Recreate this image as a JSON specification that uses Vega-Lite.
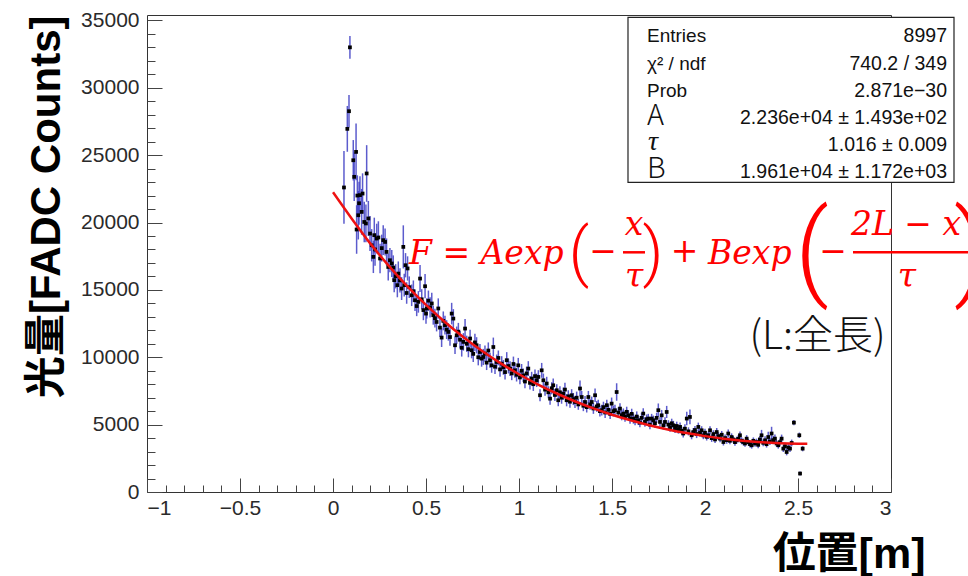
{
"$schema": "https://vega.github.io/schema/vega-lite/v6.json",
"width": 744, "height": 477,
"autosize": "none",
"padding": {"left": 147, "top": 15, "right": 77, "bottom": 84},
"background": "white",
"config": {"view": {"stroke": "#333", "strokeWidth": 1}, "font": "Liberation Sans"},
"datasets": {
"pts": [
{"x":0.059,"y":22600,"e":2700},{"x":0.077,"y":26950,"e":1700},{"x":0.086,"y":28260,"e":1200},{"x":0.091,"y":33000,"e":850},
{"x":0.109,"y":24620,"e":1500},{"x":0.114,"y":23390,"e":1800},{"x":0.124,"y":25240,"e":2100},{"x":0.131,"y":22000,"e":1500},
{"x":0.136,"y":20540,"e":1800},{"x":0.140,"y":21430,"e":1600},{"x":0.145,"y":22030,"e":1400},{"x":0.154,"y":20790,"e":1700},
{"x":0.159,"y":22150,"e":1500},{"x":0.168,"y":20040,"e":1500},{"x":0.177,"y":19930,"e":1400},{"x":0.181,"y":23640,"e":2100},
{"x":0.127,"y":19480,"e":1800},{"x":0.190,"y":20300,"e":1300},{"x":0.199,"y":19180,"e":1300},{"x":0.208,"y":18310,"e":1200},
{"x":0.217,"y":17450,"e":1200},{"x":0.222,"y":19060,"e":1300},{"x":0.226,"y":18000,"e":1200},{"x":0.235,"y":18810,"e":1100},
{"x":0.244,"y":18890,"e":1200},{"x":0.253,"y":17330,"e":1100},{"x":0.262,"y":18100,"e":1000},{"x":0.270,"y":18690,"e":1100},
{"x":0.280,"y":18560,"e":1000},{"x":0.288,"y":17820,"e":1000},{"x":0.297,"y":16700,"e":1000},{"x":0.306,"y":17200,"e":900},
{"x":0.316,"y":16960,"e":1000},{"x":0.324,"y":16660,"e":900},{"x":0.329,"y":15720,"e":900},{"x":0.337,"y":16010,"e":900},
{"x":0.346,"y":15350,"e":900},{"x":0.351,"y":16210,"e":900},{"x":0.360,"y":15700,"e":900},{"x":0.369,"y":15100,"e":850},
{"x":0.378,"y":18190,"e":1600},{"x":0.383,"y":15350,"e":850},{"x":0.390,"y":16830,"e":900},{"x":0.396,"y":14770,"e":800},
{"x":0.401,"y":16590,"e":900},{"x":0.410,"y":15200,"e":800},{"x":0.423,"y":14600,"e":800},{"x":0.432,"y":14900,"e":800},
{"x":0.441,"y":14230,"e":800},{"x":0.450,"y":13800,"e":750},{"x":0.459,"y":14110,"e":800},{"x":0.468,"y":15840,"e":1000},
{"x":0.477,"y":14300,"e":750},{"x":0.486,"y":13500,"e":750},{"x":0.495,"y":15270,"e":900},{"x":0.500,"y":13240,"e":750},
{"x":0.504,"y":13620,"e":750},{"x":0.513,"y":14200,"e":750},{"x":0.522,"y":13700,"e":750},{"x":0.531,"y":13990,"e":800},
{"x":0.539,"y":13120,"e":700},{"x":0.548,"y":12900,"e":700},{"x":0.557,"y":12620,"e":700},{"x":0.566,"y":13620,"e":750},
{"x":0.575,"y":12200,"e":700},{"x":0.584,"y":11460,"e":700},{"x":0.593,"y":12700,"e":700},{"x":0.602,"y":12380,"e":700},
{"x":0.611,"y":12050,"e":700},{"x":0.620,"y":11880,"e":650},{"x":0.629,"y":11500,"e":650},{"x":0.638,"y":13240,"e":800},
{"x":0.647,"y":12870,"e":700},{"x":0.656,"y":10890,"e":650},{"x":0.665,"y":11630,"e":650},{"x":0.674,"y":11900,"e":650},
{"x":0.683,"y":11300,"e":650},{"x":0.692,"y":10700,"e":650},{"x":0.701,"y":11140,"e":650},{"x":0.710,"y":12130,"e":700},
{"x":0.719,"y":11000,"e":600},{"x":0.728,"y":10600,"e":600},{"x":0.737,"y":11390,"e":650},{"x":0.745,"y":10520,"e":600},
{"x":0.754,"y":10250,"e":600},{"x":0.763,"y":11100,"e":650},{"x":0.772,"y":10890,"e":600},{"x":0.781,"y":10000,"e":600},
{"x":0.790,"y":10390,"e":600},{"x":0.799,"y":9900,"e":600},{"x":0.808,"y":10020,"e":600},{"x":0.817,"y":10270,"e":600},
{"x":0.826,"y":9600,"e":550},{"x":0.835,"y":10500,"e":600},{"x":0.844,"y":9780,"e":550},{"x":0.853,"y":9400,"e":550},
{"x":0.862,"y":10760,"e":700},{"x":0.871,"y":9300,"e":550},{"x":0.880,"y":9650,"e":550},{"x":0.889,"y":9950,"e":550},
{"x":0.898,"y":9100,"e":550},{"x":0.907,"y":9530,"e":550},{"x":0.916,"y":9250,"e":550},{"x":0.925,"y":8900,"e":550},
{"x":0.934,"y":9780,"e":600},{"x":0.943,"y":9350,"e":550},{"x":0.952,"y":9160,"e":550},{"x":0.961,"y":8800,"e":500},
{"x":0.970,"y":9500,"e":550},{"x":0.978,"y":9030,"e":550},{"x":0.987,"y":8700,"e":500},{"x":0.996,"y":9400,"e":550},
{"x":1.005,"y":8500,"e":500},{"x":1.014,"y":9000,"e":500},{"x":1.023,"y":8660,"e":500},{"x":1.032,"y":8200,"e":500},
{"x":1.041,"y":8800,"e":500},{"x":1.050,"y":9160,"e":550},{"x":1.059,"y":8100,"e":500},{"x":1.068,"y":8420,"e":500},
{"x":1.077,"y":8000,"e":500},{"x":1.086,"y":8600,"e":500},{"x":1.095,"y":8290,"e":500},{"x":1.104,"y":8540,"e":500},
{"x":1.113,"y":7180,"e":450},{"x":1.122,"y":9030,"e":550},{"x":1.131,"y":8290,"e":500},{"x":1.140,"y":7600,"e":450},
{"x":1.149,"y":8050,"e":500},{"x":1.158,"y":7400,"e":450},{"x":1.167,"y":6930,"e":450},{"x":1.176,"y":7700,"e":450},
{"x":1.184,"y":7920,"e":500},{"x":1.193,"y":7200,"e":450},{"x":1.203,"y":7550,"e":450},{"x":1.211,"y":6810,"e":450},
{"x":1.220,"y":7400,"e":450},{"x":1.229,"y":7000,"e":450},{"x":1.238,"y":7300,"e":450},{"x":1.247,"y":7600,"e":500},
{"x":1.256,"y":6810,"e":450},{"x":1.265,"y":7100,"e":450},{"x":1.274,"y":6700,"e":450},{"x":1.283,"y":7180,"e":450},
{"x":1.292,"y":6900,"e":450},{"x":1.301,"y":6680,"e":450},{"x":1.310,"y":7000,"e":450},{"x":1.319,"y":6500,"e":400},
{"x":1.328,"y":7680,"e":600},{"x":1.337,"y":7050,"e":450},{"x":1.346,"y":6400,"e":400},{"x":1.355,"y":6680,"e":450},
{"x":1.364,"y":6300,"e":400},{"x":1.373,"y":7050,"e":450},{"x":1.382,"y":6500,"e":400},{"x":1.391,"y":6680,"e":400},
{"x":1.400,"y":6200,"e":400},{"x":1.409,"y":7180,"e":500},{"x":1.418,"y":6350,"e":400},{"x":1.426,"y":6440,"e":400},
{"x":1.435,"y":6000,"e":400},{"x":1.445,"y":6070,"e":400},{"x":1.454,"y":6300,"e":400},{"x":1.463,"y":5900,"e":400},
{"x":1.472,"y":6440,"e":400},{"x":1.481,"y":6100,"e":400},{"x":1.490,"y":5800,"e":380},{"x":1.498,"y":6560,"e":450},
{"x":1.507,"y":6000,"e":400},{"x":1.516,"y":6070,"e":400},{"x":1.525,"y":7420,"e":650},{"x":1.534,"y":5900,"e":380},
{"x":1.543,"y":6190,"e":400},{"x":1.552,"y":5700,"e":380},{"x":1.561,"y":5820,"e":380},{"x":1.570,"y":5600,"e":380},
{"x":1.579,"y":5950,"e":380},{"x":1.588,"y":5690,"e":380},{"x":1.597,"y":5450,"e":380},{"x":1.606,"y":5800,"e":380},
{"x":1.615,"y":5450,"e":380},{"x":1.624,"y":5300,"e":350},{"x":1.633,"y":5600,"e":380},{"x":1.641,"y":5320,"e":350},
{"x":1.650,"y":5150,"e":350},{"x":1.659,"y":5500,"e":380},{"x":1.668,"y":5820,"e":400},{"x":1.677,"y":5200,"e":350},
{"x":1.686,"y":5400,"e":350},{"x":1.695,"y":5450,"e":350},{"x":1.704,"y":5000,"e":350},{"x":1.713,"y":5450,"e":350},
{"x":1.722,"y":5320,"e":350},{"x":1.731,"y":5100,"e":350},{"x":1.740,"y":5500,"e":380},{"x":1.749,"y":6070,"e":500},
{"x":1.758,"y":5200,"e":350},{"x":1.767,"y":5690,"e":400},{"x":1.776,"y":4950,"e":330},{"x":1.785,"y":5200,"e":350},
{"x":1.794,"y":5940,"e":450},{"x":1.803,"y":5000,"e":330},{"x":1.812,"y":4800,"e":320},{"x":1.821,"y":5100,"e":340},
{"x":1.830,"y":4950,"e":330},{"x":1.839,"y":4700,"e":320},{"x":1.848,"y":4900,"e":320},{"x":1.857,"y":4650,"e":320},
{"x":1.866,"y":4830,"e":320},{"x":1.875,"y":4550,"e":300},{"x":1.883,"y":4340,"e":300},{"x":1.892,"y":4700,"e":320},
{"x":1.902,"y":5450,"e":500},{"x":1.911,"y":4500,"e":300},{"x":1.919,"y":5570,"e":550},{"x":1.928,"y":4210,"e":300},
{"x":1.937,"y":4450,"e":300},{"x":1.946,"y":4600,"e":300},{"x":1.955,"y":4300,"e":300},{"x":1.964,"y":4830,"e":320},
{"x":1.973,"y":4400,"e":300},{"x":1.982,"y":4580,"e":300},{"x":1.991,"y":4200,"e":280},{"x":2.000,"y":4400,"e":300},
{"x":2.009,"y":4100,"e":280},{"x":2.018,"y":4210,"e":280},{"x":2.027,"y":4580,"e":300},{"x":2.036,"y":4000,"e":280},
{"x":2.045,"y":4300,"e":280},{"x":2.054,"y":3900,"e":270},{"x":2.063,"y":4450,"e":300},{"x":2.072,"y":4150,"e":280},
{"x":2.081,"y":3960,"e":270},{"x":2.090,"y":4250,"e":280},{"x":2.099,"y":3710,"e":260},{"x":2.108,"y":4000,"e":270},
{"x":2.117,"y":3850,"e":260},{"x":2.125,"y":4340,"e":290},{"x":2.134,"y":3800,"e":260},{"x":2.143,"y":4080,"e":270},
{"x":2.152,"y":3900,"e":260},{"x":2.161,"y":3700,"e":260},{"x":2.170,"y":3840,"e":260},{"x":2.179,"y":3950,"e":260},
{"x":2.188,"y":4210,"e":280},{"x":2.197,"y":3800,"e":260},{"x":2.206,"y":3710,"e":250},{"x":2.215,"y":3600,"e":250},
{"x":2.224,"y":3960,"e":260},{"x":2.233,"y":3700,"e":250},{"x":2.242,"y":3550,"e":250},{"x":2.251,"y":3470,"e":250},
{"x":2.260,"y":3800,"e":250},{"x":2.269,"y":3600,"e":250},{"x":2.277,"y":3710,"e":250},{"x":2.286,"y":3500,"e":250},
{"x":2.295,"y":3900,"e":260},{"x":2.304,"y":4210,"e":400},{"x":2.313,"y":3650,"e":250},{"x":2.323,"y":3840,"e":300},
{"x":2.331,"y":3550,"e":250},{"x":2.340,"y":4080,"e":400},{"x":2.349,"y":3750,"e":260},{"x":2.358,"y":4340,"e":500},
{"x":2.367,"y":3850,"e":300},{"x":2.376,"y":3960,"e":300},{"x":2.385,"y":3600,"e":260},{"x":2.394,"y":3470,"e":250},
{"x":2.403,"y":3700,"e":260},{"x":2.412,"y":3960,"e":300},{"x":2.421,"y":3220,"e":250},{"x":2.430,"y":3400,"e":250},
{"x":2.439,"y":2970,"e":250},{"x":2.448,"y":3300,"e":250},{"x":2.457,"y":3220,"e":250},{"x":2.466,"y":3640,"e":250},
{"x":2.478,"y":5150,"e":200},{"x":2.507,"y":4210,"e":200},{"x":2.525,"y":3220,"e":200},{"x":2.511,"y":1370,"e":150}
],
"fit": [
{"x":0,"f":22250},{"x":0.1,"f":20300},{"x":0.2,"f":18450},{"x":0.3,"f":16780},{"x":0.4,"f":15260},{"x":0.5,"f":13890},
{"x":0.6,"f":12640},{"x":0.7,"f":11510},{"x":0.8,"f":10488},{"x":0.9,"f":9568},{"x":1.0,"f":8739},{"x":1.1,"f":7995},
{"x":1.2,"f":7329},{"x":1.3,"f":6734},{"x":1.4,"f":6204},{"x":1.5,"f":5734},{"x":1.6,"f":5320},{"x":1.7,"f":4957},
{"x":1.8,"f":4644},{"x":1.9,"f":4374},{"x":2.0,"f":4146},{"x":2.1,"f":3960},{"x":2.2,"f":3811},{"x":2.3,"f":3700},
{"x":2.4,"f":3624},{"x":2.5,"f":3585},{"x":2.55,"f":3578}
]
},
"resolve": {"axis": {"x": "independent", "y": "independent"}},
"layer": [
{
 "data": {"name": "fit"},
 "mark": {"type": "point", "opacity": 0},
 "encoding": {
  "x": {"field": "x", "type": "quantitative", "scale": {"domain": [-1, 3], "nice": false, "zero": false},
   "axis": {"orient": "bottom", "values": [-0.9,-0.8,-0.7,-0.6,-0.4,-0.3,-0.2,-0.1,0.1,0.2,0.3,0.4,0.6,0.7,0.8,0.9,1.1,1.2,1.3,1.4,1.6,1.7,1.8,1.9,2.1,2.2,2.3,2.4,2.6,2.7,2.8,2.9],
    "labels": false, "domain": false, "grid": false, "tickSize": -7, "tickColor": "#444", "tickWidth": 1, "title": null}},
  "y": {"field": "f", "type": "quantitative", "scale": {"domain": [0, 35400], "nice": false, "zero": false},
   "axis": {"orient": "left", "values": [1000,2000,3000,4000,6000,7000,8000,9000,11000,12000,13000,14000,16000,17000,18000,19000,21000,22000,23000,24000,26000,27000,28000,29000,31000,32000,33000,34000],
    "labels": false, "domain": false, "grid": false, "tickSize": -8, "tickColor": "#444", "tickWidth": 1, "title": null}}
 }
},
{
 "data": {"name": "pts"},
 "mark": {"type": "errorbar", "color": "#4040c4", "thickness": 1.5, "opacity": 0.85},
 "encoding": {
  "x": {"field": "x", "type": "quantitative", "axis": null},
  "y": {"field": "y", "type": "quantitative", "axis": null},
  "yError": {"field": "e"}
 }
},
{
 "data": {"name": "pts"},
 "mark": {"type": "square", "filled": true, "color": "#000000", "size": 14, "opacity": 1},
 "encoding": {
  "x": {"field": "x", "type": "quantitative", "scale": {"domain": [-1, 3], "nice": false, "zero": false},
   "axis": {"orient": "bottom", "values": [-1,-0.5,0,0.5,1,1.5,2,2.5,3], "format": "~g", "domain": false, "grid": false,
    "tickSize": -14, "tickColor": "#444", "tickWidth": 1, "labelPadding": 19, "labelFont": "Liberation Sans", "labelFontSize": 21, "labelColor": "#2a2a2a",
    "title": "位置[m]", "titleFont": "Liberation Sans, Noto Sans CJK JP", "titleFontSize": 43, "titleFontWeight": "bold", "titleColor": "#000",
    "titleAnchor": "end", "titleAlign": "right", "titleX": 778, "titleY": 62, "titleBaseline": "middle"}},
  "y": {"field": "y", "type": "quantitative", "scale": {"domain": [0, 35400], "nice": false, "zero": false},
   "axis": {"orient": "left", "values": [0,5000,10000,15000,20000,25000,30000,35000], "format": "d", "domain": false, "grid": false,
    "tickSize": -15, "tickColor": "#444", "tickWidth": 1, "labelPadding": 23, "labelFont": "Liberation Sans", "labelFontSize": 21, "labelColor": "#2a2a2a",
    "title": "光量[FADC Counts]", "titleFont": "Liberation Sans, Noto Sans CJK JP", "titleFontSize": 42, "titleFontWeight": "bold", "titleColor": "#000",
    "titleAnchor": "end", "titleAngle": -90, "titleX": -101, "titleBaseline": "middle"}}
 }
},
{
 "data": {"name": "fit"},
 "mark": {"type": "line", "color": "#ee1111", "strokeWidth": 2.5, "interpolate": "monotone"},
 "encoding": {
  "x": {"field": "x", "type": "quantitative", "axis": null},
  "y": {"field": "f", "type": "quantitative", "axis": null}
 }
},
{
 "data": {"values": [{}]},
 "mark": {"type": "rect", "fill": "#ffffff", "stroke": "#222222", "strokeWidth": 1.2},
 "encoding": {"x": {"datum": 1.586, "axis": null}, "x2": {"datum": 3.3387}, "y": {"datum": 35225, "axis": null}, "y2": {"datum": 22983}}
},
{
 "data": {"values": [{}]},
 "mark": {"type": "text", "text": ["Entries", "χ² / ndf", "Prob"], "align": "left", "baseline": "alphabetic", "lineHeight": 27.5, "font": "Liberation Sans", "fontSize": 19, "color": "#111"},
 "encoding": {"x": {"datum": 1.6882, "axis": null}, "y": {"datum": 33372, "axis": null}}
},
{
 "data": {"values": [{}]},
 "mark": {"type": "text", "text": ["8997", "740.2 / 349", "2.871e−30", "2.236e+04 ± 1.493e+02", "1.016 ± 0.009", "1.961e+04 ± 1.172e+03"], "align": "right", "baseline": "alphabetic", "lineHeight": 27.2, "font": "Liberation Sans", "fontSize": 19.5, "color": "#111"},
 "encoding": {"x": {"datum": 3.3011, "axis": null}, "y": {"datum": 33372, "axis": null}}
},
{
 "data": {"values": [{}]},
 "mark": {"type": "text", "text": "A", "align": "left", "baseline": "alphabetic", "font": "Noto Sans CJK JP", "fontWeight": 300, "fontSize": 29, "color": "#111"},
 "encoding": {"x": {"datum": 1.6882, "axis": null}, "y": {"datum": 27213, "axis": null}}
},
{
 "data": {"values": [{}]},
 "mark": {"type": "text", "text": "τ", "align": "left", "baseline": "alphabetic", "font": "Liberation Serif", "fontStyle": "italic", "fontSize": 28, "color": "#111"},
 "encoding": {"x": {"datum": 1.6935, "axis": null}, "y": {"datum": 25357, "axis": null}}
},
{
 "data": {"values": [{}]},
 "mark": {"type": "text", "text": "B", "align": "left", "baseline": "alphabetic", "font": "Noto Sans CJK JP", "fontWeight": 300, "fontSize": 29, "color": "#111"},
 "encoding": {"x": {"datum": 1.6882, "axis": null}, "y": {"datum": 23280, "axis": null}}
},
{
 "data": {"values": [{}]},
 "mark": {"type": "text", "text": "F = Aexp", "align": "left", "baseline": "alphabetic", "font": "DejaVu Serif", "fontStyle": "italic", "fontSize": 33, "color": "#ff0000"},
 "encoding": {"x": {"datum": 0.4086, "axis": null}, "y": {"datum": 16898, "axis": null}}
},
{
 "data": {"values": [{}]},
 "mark": {"type": "text", "text": "(", "align": "center", "baseline": "middle", "font": "Roboto", "fontWeight": 300, "fontSize": 64, "color": "#ff0000"},
 "encoding": {"x": {"datum": 1.3226, "axis": null}, "y": {"datum": 17600, "axis": null}}
},
{
 "data": {"values": [{}]},
 "mark": {"type": "text", "text": "−", "align": "center", "baseline": "middle", "font": "DejaVu Serif", "fontSize": 33, "color": "#ff0000"},
 "encoding": {"x": {"datum": 1.4516, "axis": null}, "y": {"datum": 17788, "axis": null}}
},
{
 "data": {"values": [{}]},
 "mark": {"type": "text", "text": "x", "align": "center", "baseline": "middle", "font": "DejaVu Serif", "fontStyle": "italic", "fontSize": 33, "color": "#ff0000"},
 "encoding": {"x": {"datum": 1.6183, "axis": null}, "y": {"datum": 19792, "axis": null}}
},
{
 "data": {"values": [{}]},
 "mark": {"type": "rule", "color": "#ff0000", "strokeWidth": 2.5},
 "encoding": {"x": {"datum": 1.5591, "axis": null}, "x2": {"datum": 1.6774}, "y": {"datum": 17788, "axis": null}}
},
{
 "data": {"values": [{}]},
 "mark": {"type": "text", "text": "τ", "align": "center", "baseline": "middle", "font": "DejaVu Serif", "fontStyle": "italic", "fontSize": 33, "color": "#ff0000"},
 "encoding": {"x": {"datum": 1.6183, "axis": null}, "y": {"datum": 15933, "axis": null}}
},
{
 "data": {"values": [{}]},
 "mark": {"type": "text", "text": ")", "align": "center", "baseline": "middle", "font": "Roboto", "fontWeight": 300, "fontSize": 64, "color": "#ff0000"},
 "encoding": {"x": {"datum": 1.7204, "axis": null}, "y": {"datum": 17600, "axis": null}}
},
{
 "data": {"values": [{}]},
 "mark": {"type": "text", "text": "+", "align": "center", "baseline": "middle", "font": "DejaVu Serif", "fontSize": 33, "color": "#ff0000"},
 "encoding": {"x": {"datum": 1.8898, "axis": null}, "y": {"datum": 17788, "axis": null}}
},
{
 "data": {"values": [{}]},
 "mark": {"type": "text", "text": "Bexp", "align": "left", "baseline": "alphabetic", "font": "DejaVu Serif", "fontStyle": "italic", "fontSize": 33, "color": "#ff0000"},
 "encoding": {"x": {"datum": 2.0161, "axis": null}, "y": {"datum": 16898, "axis": null}}
},
{
 "data": {"values": [{}]},
 "mark": {"type": "text", "text": "(", "align": "center", "baseline": "middle", "font": "Roboto", "fontWeight": 300, "fontSize": 106, "color": "#ff0000"},
 "encoding": {"x": {"datum": 2.5753, "axis": null}, "y": {"datum": 17700, "axis": null}}
},
{
 "data": {"values": [{}]},
 "mark": {"type": "text", "text": "−", "align": "center", "baseline": "middle", "font": "DejaVu Serif", "fontSize": 33, "color": "#ff0000"},
 "encoding": {"x": {"datum": 2.6882, "axis": null}, "y": {"datum": 17788, "axis": null}}
},
{
 "data": {"values": [{}]},
 "mark": {"type": "rule", "color": "#ff0000", "strokeWidth": 2.5},
 "encoding": {"x": {"datum": 2.7957, "axis": null}, "x2": {"datum": 3.5}, "y": {"datum": 17788, "axis": null}}
},
{
 "data": {"values": [{}]},
 "mark": {"type": "text", "text": "2L − x", "align": "center", "baseline": "middle", "font": "DejaVu Serif", "fontStyle": "italic", "fontSize": 33, "color": "#ff0000"},
 "encoding": {"x": {"datum": 3.0806, "axis": null}, "y": {"datum": 19792, "axis": null}}
},
{
 "data": {"values": [{}]},
 "mark": {"type": "text", "text": "τ", "align": "center", "baseline": "middle", "font": "DejaVu Serif", "fontStyle": "italic", "fontSize": 33, "color": "#ff0000"},
 "encoding": {"x": {"datum": 3.086, "axis": null}, "y": {"datum": 15933, "axis": null}}
},
{
 "data": {"values": [{}]},
 "mark": {"type": "text", "text": ")", "align": "center", "baseline": "middle", "font": "Roboto", "fontWeight": 300, "fontSize": 106, "color": "#ff0000"},
 "encoding": {"x": {"datum": 3.43, "axis": null}, "y": {"datum": 17700, "axis": null}}
},
{
 "data": {"values": [{}]},
 "mark": {"type": "text", "text": "(L:全長)", "align": "center", "baseline": "middle", "font": "Noto Sans CJK JP", "fontWeight": 300, "fontSize": 40, "color": "#111"},
 "encoding": {"x": {"datum": 2.6048, "axis": null}, "y": {"datum": 11480, "axis": null}}
}
]
}
